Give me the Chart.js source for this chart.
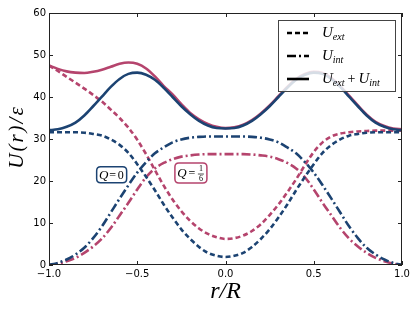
<!DOCTYPE html>
<html>
<head>
<meta charset="utf-8">
<script src="https://cdn.jsdelivr.net/npm/chart.js@4.4.1/dist/chart.umd.min.js"></script>
<style>
  body { margin: 0; background: #fff; }
  #myChart { display: block; }
</style>
</head>
<body>
<canvas id="myChart" width="415" height="312"></canvas>
<script>
// r/R positions
const xs = [-1, -0.95, -0.9, -0.85, -0.8, -0.75, -0.7, -0.65, -0.6, -0.55, -0.5,
  -0.45, -0.4, -0.35, -0.3, -0.25, -0.2, -0.15, -0.1, -0.05, 0,
  0.05, 0.1, 0.15, 0.2, 0.25, 0.3, 0.35, 0.4, 0.45, 0.5,
  0.55, 0.6, 0.65, 0.7, 0.75, 0.8, 0.85, 0.9, 0.95, 1];

// Q = 0
const extQ0 = [31.6, 31.6, 31.6, 31.6, 31.5, 31.2, 30.8, 29.9, 28.6, 26.7, 24.0,
  21.0, 17.8, 14.4, 11.3, 8.5, 6.2, 4.3, 2.9, 2.2, 1.9,
  2.2, 2.9, 4.3, 6.2, 8.5, 11.3, 14.4, 17.8, 21.0, 24.0,
  26.7, 28.6, 29.9, 30.8, 31.2, 31.5, 31.6, 31.6, 31.6, 31.6];
const intQ0 = [0.0, 0.5, 1.3, 2.5, 4.1, 6.4, 9.2, 12.5, 15.8, 19.0, 22.0,
  24.5, 26.6, 28.0, 29.2, 29.9, 30.3, 30.5, 30.6, 30.6, 30.6,
  30.6, 30.6, 30.5, 30.3, 29.9, 29.2, 28.0, 26.6, 24.5, 22.0,
  19.0, 15.8, 12.5, 9.2, 6.4, 4.1, 2.5, 1.3, 0.5, 0.0];
const totQ0 = [32.1, 32.3, 32.9, 33.9, 35.6, 37.8, 40.1, 42.4, 44.3, 45.5, 45.8,
  45.3, 44.1, 42.2, 40.0, 37.8, 35.9, 34.3, 33.2, 32.6, 32.5,
  32.6, 33.2, 34.3, 35.9, 37.8, 40.0, 42.2, 44.1, 45.3, 45.8,
  45.5, 44.3, 42.4, 40.1, 37.8, 35.6, 33.9, 32.9, 32.3, 32.1];

// Q = 1/6
const extQ6 = [47.5, 46.2, 44.8, 43.4, 42.0, 40.5, 38.9, 37.0, 35.0, 32.7, 29.8,
  26.4, 22.6, 18.9, 15.6, 12.8, 10.5, 8.7, 7.4, 6.6, 6.2,
  6.4, 7.0, 8.1, 9.7, 11.9, 14.4, 17.3, 20.4, 23.8, 26.9,
  29.2, 30.6, 31.3, 31.6, 31.8, 31.9, 32.0, 32.0, 32.0, 32.0];
const intQ6 = [0.0, 0.3, 0.9, 1.7, 2.9, 4.4, 6.3, 8.8, 11.8, 14.8, 18.0,
  20.9, 23.0, 24.3, 25.2, 25.8, 26.1, 26.3, 26.4, 26.4, 26.4,
  26.4, 26.4, 26.3, 26.1, 25.8, 25.2, 24.3, 23.0, 20.9, 18.0,
  14.8, 11.8, 8.8, 6.3, 4.4, 2.9, 1.7, 0.9, 0.3, 0.0];
const totQ6 = [47.5, 46.7, 46.1, 45.8, 45.7, 46.0, 46.5, 47.2, 47.9, 48.2, 47.9,
  46.8, 44.9, 42.6, 40.6, 38.3, 36.2, 34.7, 33.6, 32.9, 32.6,
  32.8, 33.4, 34.5, 36.1, 38.0, 40.2, 42.4, 44.3, 45.5, 46.0,
  45.7, 44.5, 42.6, 40.3, 38.0, 35.8, 34.1, 33.1, 32.5, 32.3];

const xTicks = [-1, -0.5, 0, 0.5, 1];
const yTicks = [0, 10, 20, 30, 40, 50, 60];

const blue = "#1c4372";
const pink = "#b5446d";
const dashed = [5, 3];
const dashDot = [9, 3, 2, 3];

function pts(arr) {
  return xs.map((x, i) => ({ x: x, y: arr[i] }));
}

function line(label, arr, color, dash) {
  return {
    label: label,
    data: pts(arr),
    borderColor: color,
    borderWidth: 2.6,
    borderDash: dash,
    borderCapStyle: "butt",
    pointRadius: 0,
    fill: false,
    cubicInterpolationMode: "monotone"
  };
}

// first dataset sits on top in Chart.js, so blue goes first
const datasets = [
  line("tot Q0", totQ0, blue, []),
  line("ext Q0", extQ0, blue, dashed),
  line("int Q0", intQ0, blue, dashDot),
  line("tot Q6", totQ6, pink, []),
  line("ext Q6", extQ6, pink, dashed),
  line("int Q6", intQ6, pink, dashDot)
];

const serif = "'Liberation Serif', 'DejaVu Serif', serif";

function roundBox(ctx, x, y, w, h, r) {
  ctx.beginPath();
  ctx.moveTo(x + r, y);
  ctx.lineTo(x + w - r, y);
  ctx.quadraticCurveTo(x + w, y, x + w, y + r);
  ctx.lineTo(x + w, y + h - r);
  ctx.quadraticCurveTo(x + w, y + h, x + w - r, y + h);
  ctx.lineTo(x + r, y + h);
  ctx.quadraticCurveTo(x, y + h, x, y + h - r);
  ctx.lineTo(x, y + r);
  ctx.quadraticCurveTo(x, y, x + r, y);
  ctx.closePath();
}

// U with subscript, returns end x
function uSub(ctx, x, y, sub) {
  ctx.font = "italic 15px " + serif;
  ctx.fillText("U", x, y);
  x += ctx.measureText("U").width;
  ctx.font = "italic 10px " + serif;
  ctx.fillText(sub, x, y + 3);
  return x + ctx.measureText(sub).width;
}

const decor = {
  id: "decor",
  afterDraw(chart) {
    const ctx = chart.ctx;
    const a = chart.chartArea;
    const sx = chart.scales.x, sy = chart.scales.y;
    ctx.save();

    // frame and inward ticks
    ctx.strokeStyle = "#222";
    ctx.lineWidth = 1;
    ctx.setLineDash([]);
    ctx.strokeRect(a.left + 0.5, a.top + 0.5, a.right - a.left - 1, a.bottom - a.top - 1);
    ctx.beginPath();
    xTicks.forEach(v => {
      const px = Math.round(sx.getPixelForValue(v)) + 0.5;
      ctx.moveTo(px, a.bottom); ctx.lineTo(px, a.bottom - 4);
      ctx.moveTo(px, a.top); ctx.lineTo(px, a.top + 4);
    });
    yTicks.forEach(v => {
      const py = Math.round(sy.getPixelForValue(v)) + 0.5;
      ctx.moveTo(a.left, py); ctx.lineTo(a.left + 4, py);
      ctx.moveTo(a.right, py); ctx.lineTo(a.right - 4, py);
    });
    ctx.stroke();

    // axis titles
    ctx.fillStyle = "#000";
    ctx.textBaseline = "middle";
    ctx.textAlign = "center";
    ctx.font = "italic 24px " + serif;
    ctx.fillText("r/R", (a.left + a.right) / 2, 292);
    ctx.save();
    ctx.translate(17, 137);
    ctx.rotate(-Math.PI / 2);
    ctx.font = "italic 21px " + serif;
    ctx.letterSpacing = "2px";
    ctx.fillText("U(r)/\u03b5", 0, 0);
    ctx.restore();

    // Q labels
    const q0x = sx.getPixelForValue(-0.645), q0y = sy.getPixelForValue(21.5);
    ctx.fillStyle = "#fff";
    ctx.strokeStyle = blue;
    ctx.lineWidth = 1.5;
    roundBox(ctx, q0x - 15, q0y - 8, 30, 16, 4);
    ctx.fill(); ctx.stroke();
    ctx.fillStyle = "#000";
    ctx.font = "italic 13px " + serif;
    ctx.fillText("Q", q0x - 8, q0y + 1);
    ctx.font = "12px " + serif;
    ctx.fillText("=", q0x + 1, q0y + 1);
    ctx.fillText("0", q0x + 9, q0y + 1);

    const q6x = sx.getPixelForValue(-0.196), q6y = sy.getPixelForValue(21.9);
    ctx.fillStyle = "#fff";
    ctx.strokeStyle = pink;
    roundBox(ctx, q6x - 16, q6y - 10, 32, 20, 4);
    ctx.fill(); ctx.stroke();
    ctx.fillStyle = "#000";
    ctx.font = "italic 13px " + serif;
    ctx.fillText("Q", q6x - 9, q6y + 1);
    ctx.font = "12px " + serif;
    ctx.fillText("=", q6x + 1, q6y + 1);
    ctx.font = "8px " + serif;
    ctx.fillText("1", q6x + 10, q6y - 4);
    ctx.fillText("6", q6x + 10, q6y + 6);
    ctx.strokeStyle = "#000";
    ctx.lineWidth = 0.7;
    ctx.beginPath();
    ctx.moveTo(q6x + 7, q6y + 1); ctx.lineTo(q6x + 13, q6y + 1);
    ctx.stroke();

    // legend
    ctx.fillStyle = "rgba(255,255,255,0.82)";
    ctx.fillRect(278, 20, 118, 72);
    ctx.strokeStyle = "#444";
    ctx.lineWidth = 1;
    ctx.strokeRect(278.5, 20.5, 117, 71);
    const rows = [
      { y: 33, dash: dashed, subs: ["ext"] },
      { y: 56, dash: dashDot, subs: ["int"] },
      { y: 79, dash: [], subs: ["ext", "int"] }
    ];
    rows.forEach(r => {
      ctx.strokeStyle = "#000";
      ctx.lineWidth = 2.6;
      ctx.setLineDash(r.dash);
      ctx.beginPath();
      ctx.moveTo(287, r.y); ctx.lineTo(309, r.y);
      ctx.stroke();
      ctx.setLineDash([]);
      ctx.fillStyle = "#000";
      ctx.textAlign = "left";
      ctx.textBaseline = "alphabetic";
      let tx = uSub(ctx, 322, r.y + 4, r.subs[0]);
      if (r.subs.length > 1) {
        ctx.font = "14px " + serif;
        ctx.fillText("+", tx + 3, r.y + 4);
        tx += 3 + ctx.measureText("+").width + 3;
        uSub(ctx, tx, r.y + 4, r.subs[1]);
      }
    });
    ctx.restore();
  }
};

const config = {
  type: "line",
  data: { datasets },
  options: {
    responsive: false,
    animation: false,
    layout: { padding: { top: 13, right: 13, left: 0, bottom: 0 } },
    plugins: { legend: { display: false }, tooltip: { enabled: false } },
    scales: {
      x: {
        type: "linear",
        min: -1,
        max: 1,
        grid: { display: false, drawTicks: false },
        border: { display: false },
        afterFit: s => { s.height = 47; },
        afterBuildTicks: s => { s.ticks = xTicks.map(v => ({ value: v })); },
        ticks: {
          color: "#000",
          padding: 3,
          maxRotation: 0,
          font: { family: "'DejaVu Sans'", size: 10 },
          callback: v => v.toFixed(1).replace("-", "\u2212")
        }
      },
      y: {
        min: 0,
        max: 60,
        grid: { display: false, drawTicks: false },
        border: { display: false },
        afterFit: s => { s.width = 49; },
        afterBuildTicks: s => { s.ticks = yTicks.map(v => ({ value: v })); },
        ticks: {
          color: "#000",
          padding: 3,
          font: { family: "'DejaVu Sans'", size: 10 }
        }
      }
    }
  },
  plugins: [decor]
};

const chart = document.getElementById("myChart");
const myChart = new Chart(chart, config);
</script>
</body>
</html>
